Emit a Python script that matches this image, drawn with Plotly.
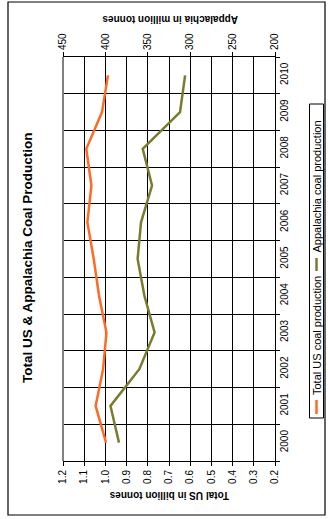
import plotly.graph_objects as go

# ---- data ----
years = [2000, 2001, 2002, 2003, 2004, 2005, 2006, 2007, 2008, 2009, 2010]
total_us = [0.997, 1.046, 1.011, 0.995, 1.030, 1.055, 1.085, 1.066, 1.090, 1.016, 0.988]
appalachia = [384, 394, 360, 342, 354, 362, 358, 345, 356, 312, 306]
total_ticks = [1.2, 1.1, 1.0, 0.9, 0.8, 0.7, 0.6, 0.5, 0.4, 0.3, 0.2]
app_ticks = [450, 400, 350, 300, 250, 200]
series_names = ["Total US coal production", "Appalachia coal production"]
title_text = "Total US & Appalachia Coal Production"
bottom_title = "Total US in billion tonnes"
top_title = "Appalachia in million tonnes"

ORANGE = "#ff6a26"
GREEN = "#7b7b2f"
FONT = "Arial, Liberation Sans, sans-serif"

W, H = 328, 519
L, R, T, B = 63, 53, 57, 58
PW, PH = W - L - R, H - T - B


def px(x):
    return (x - L) / PW


def py(y):
    return (H - B - y) / PH


fig = go.Figure()
fig.add_trace(go.Scatter(x=total_us, y=years, mode="lines", name=series_names[0],
                         line=dict(color=ORANGE, width=2.5), xaxis="x", yaxis="y"))
fig.add_trace(go.Scatter(x=appalachia, y=years, mode="lines", name=series_names[1],
                         line=dict(color=GREEN, width=2.5), xaxis="x2", yaxis="y"))

tickfont = dict(family=FONT, size=10, color="black")

fig.update_layout(
    width=W, height=H,
    margin=dict(l=L, r=R, t=T, b=B, pad=0),
    paper_bgcolor="white", plot_bgcolor="white",
    showlegend=False,
    xaxis=dict(range=[1.2, 0.2], tickvals=total_ticks,
               ticktext=[f"{v:.1f}" for v in total_ticks],
               tickangle=-90, tickfont=tickfont,
               showgrid=True, gridcolor="black", gridwidth=1,
               zeroline=False, showline=True, linecolor="black", linewidth=1,
               ticks="outside", ticklen=4, tickcolor="black"),
    xaxis2=dict(range=[450, 200], tickvals=app_ticks, overlaying="x", side="top",
                tickangle=-90, tickfont=tickfont, showgrid=False, zeroline=False,
                showline=True, linecolor="black", linewidth=1,
                ticks="outside", ticklen=4, tickcolor="black"),
    yaxis=dict(range=[1999.5, 2010.5], tickvals=years, ticktext=[str(y) for y in years],
               side="right", tickangle=-90, tickfont=tickfont,
               showgrid=False, zeroline=False, showline=True, linecolor="black",
               linewidth=1, ticks="",
               minor=dict(tickvals=[y - 0.5 for y in years] + [years[-1] + 0.5],
                          showgrid=True, gridcolor="black", gridwidth=1,
                          ticks="outside", ticklen=4, tickcolor="black")),
)

shapes = []
# outer chart border
shapes.append(dict(type="rect", xref="paper", yref="paper",
                   x0=px(8), x1=px(325), y0=py(515), y1=py(2),
                   line=dict(color="black", width=1.2), fillcolor="rgba(0,0,0,0)", layer="below"))
# gray left edge of the plot area
shapes.append(dict(type="line", xref="paper", yref="paper", x0=0, x1=0, y0=0, y1=1,
                   line=dict(color="#808080", width=2)))
# legend box
shapes.append(dict(type="rect", xref="paper", yref="paper",
                   x0=px(309.5), x1=px(323.5), y0=py(418), y1=py(104),
                   line=dict(color="black", width=1), fillcolor="white"))
# legend samples
shapes.append(dict(type="line", xref="paper", yref="paper", x0=px(316.5), x1=px(316.5),
                   y0=py(414), y1=py(400), line=dict(color=ORANGE, width=2.5)))
shapes.append(dict(type="line", xref="paper", yref="paper", x0=px(316.5), x1=px(316.5),
                   y0=py(271), y1=py(258), line=dict(color=GREEN, width=2.5)))

annotations = [
    dict(text="<b>" + title_text + "</b>", xref="paper", yref="paper",
         x=px(27), y=py(258), textangle=-90, showarrow=False,
         font=dict(family=FONT, size=13.5, color="black"), xanchor="center", yanchor="middle"),
    dict(text="<b>" + bottom_title + "</b>", xref="paper", yref="paper",
         x=px(169), y=py(496), textangle=180, showarrow=False,
         font=dict(family=FONT, size=10, color="black"), xanchor="center", yanchor="middle"),
    dict(text="<b>" + top_title + "</b>", xref="paper", yref="paper",
         x=px(170), y=py(19), textangle=180, showarrow=False,
         font=dict(family=FONT, size=10, color="black"), xanchor="center", yanchor="middle"),
    dict(text=series_names[0], xref="paper", yref="paper",
         x=px(316.5), y=py(397), textangle=-90, showarrow=False,
         font=dict(family=FONT, size=11, color="black"), xanchor="center", yanchor="bottom"),
    dict(text=series_names[1], xref="paper", yref="paper",
         x=px(316.5), y=py(255), textangle=-90, showarrow=False,
         font=dict(family=FONT, size=11, color="black"), xanchor="center", yanchor="bottom"),
]

fig.update_layout(shapes=shapes, annotations=annotations)
fig.write_html("out.html")
